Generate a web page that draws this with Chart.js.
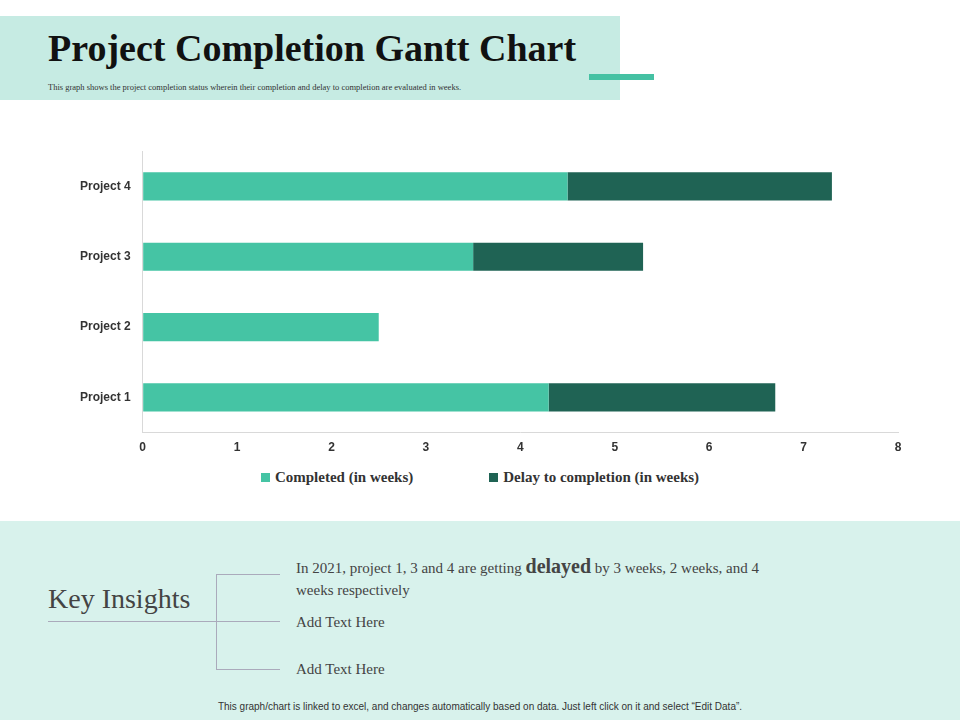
<!DOCTYPE html>
<html lang="en">
<head>
  <meta charset="UTF-8">
  <title>Project Completion Gantt Chart</title>
  <script src="https://cdn.jsdelivr.net/npm/chart.js"></script>
  <style>
    body { margin: 0; width: 960px; height: 720px; position: relative; background: #fff; overflow: hidden; font-family: "Liberation Serif", serif; }
    .head { position: absolute; left: 0; top: 16px; width: 620px; height: 84px; background: #c6ebe3; }
    .head h1 { position: absolute; left: 48px; top: 10px; margin: 0; font-size: 38px; font-weight: bold; color: #111; }
    .head p { position: absolute; left: 48px; top: 66px; margin: 0; font-size: 8.5px; color: #333; }
    .dash { position: absolute; left: 589px; top: 74px; width: 65px; height: 6px; background: #45c1a3; }
    .chart { position: absolute; left: 68px; top: 132px; width: 852px; height: 331px; }
    .legenda { position: absolute; top: 469px; left: 0; width: 960px; text-align: center; font-size: 15px; font-weight: bold; color: #333; }
    .legenda span { margin: 0 38px; }
    .legenda i { display: inline-block; width: 9px; height: 9px; margin-right: 5px; }
    .bottom { position: absolute; left: 0; top: 521px; width: 960px; height: 199px; background: #d8f2ec; }
    .ki { position: absolute; left: 48px; top: 62px; font-size: 28px; color: #444; }
    .line { position: absolute; background: #aab; }
    .txt { position: absolute; left: 296px; font-size: 15px; color: #444; line-height: 22px; }
    .foot { position: absolute; left: 0; width: 960px; top: 180px; text-align: center; font-family: "Liberation Sans", sans-serif; font-size: 10px; color: #333; }
  </style>
</head>
<body>
  <div class="head">
    <h1>Project Completion Gantt Chart</h1>
    <p>This graph shows the project completion status wherein their completion and delay to completion are evaluated in weeks.</p>
  </div>
  <div class="dash"></div>
  <div class="chart"><canvas id="grafico"></canvas></div>
  <div class="legenda" id="legenda"></div>
  <div class="bottom">
    <div class="ki">Key Insights</div>
    <div class="line" style="left:48px;top:100px;width:232px;height:1px"></div>
    <div class="line" style="left:216px;top:53px;width:1px;height:95px"></div>
    <div class="line" style="left:216px;top:53px;width:64px;height:1px"></div>
    <div class="line" style="left:216px;top:148px;width:64px;height:1px"></div>
    <div class="txt" style="top:34px;width:500px">In 2021, project 1, 3 and 4 are getting <b style="font-size:20px">delayed</b> by 3 weeks, 2 weeks, and 4 weeks respectively</div>
    <div class="txt" style="top:90px">Add Text Here</div>
    <div class="txt" style="top:137px">Add Text Here</div>
    <div class="foot">This graph/chart is linked to excel, and changes automatically based on data. Just left click on it and select “Edit Data”.</div>
  </div>

  <script>
    const categorias = ['Project 4', 'Project 3', 'Project 2', 'Project 1'];
    const concluido = [4.5, 3.5, 2.5, 4.3];
    const atraso = [2.8, 1.8, 0, 2.4];
    const series = ['Completed (in weeks)', 'Delay to completion (in weeks)'];
    const cores = ['#45c4a4', '#1f6354'];

    const ctx = document.getElementById('grafico').getContext('2d');
    const grafico = new Chart(ctx, {
      type: 'bar',
      data: {
        labels: categorias,
        datasets: [
          { label: series[0], data: concluido, backgroundColor: cores[0], barPercentage: 0.4, categoryPercentage: 1 },
          { label: series[1], data: atraso, backgroundColor: cores[1], barPercentage: 0.4, categoryPercentage: 1 }
        ]
      },
      options: {
        indexAxis: 'y',
        responsive: true,
        maintainAspectRatio: false,
        animation: false,
        layout: { padding: { left: 0, right: 22, top: 0 } },
        scales: {
          x: {
            stacked: true, min: 0, max: 8,
            ticks: { stepSize: 1, color: '#333', padding: 8, font: { family: 'Liberation Sans', size: 12, weight: 'bold' } },
            grid: { drawOnChartArea: false, drawTicks: false, color: '#d9d9d9' },
            border: { color: '#d9d9d9' }
          },
          y: {
            stacked: true,
            ticks: { color: '#333', padding: 12, font: { family: 'Liberation Sans', size: 12, weight: 'bold' } },
            grid: { drawOnChartArea: false, drawTicks: false },
            border: { color: '#d9d9d9' }
          }
        },
        plugins: {
          legend: { display: false },
          tooltip: { enabled: false }
        }
      }
    });

    // legenda em HTML a partir dos datasets
    document.getElementById('legenda').innerHTML = grafico.data.datasets
      .map(d => '<span><i style="background:' + d.backgroundColor + '"></i>' + d.label + '</span>').join('');
  </script>
</body>
</html>
